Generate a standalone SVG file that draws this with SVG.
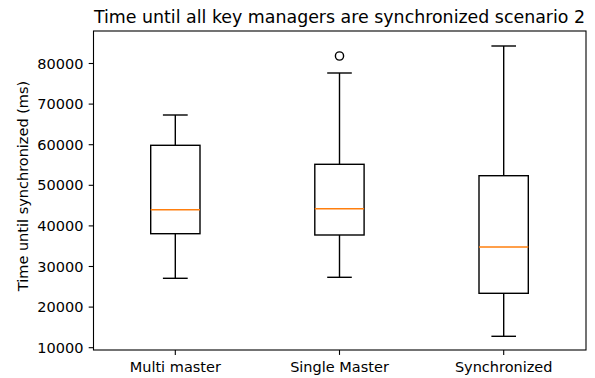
<svg xmlns="http://www.w3.org/2000/svg" width="595" height="378" viewBox="0 0 595 378">
  <style>
    text { font-family: "DejaVu Sans", "Liberation Sans", sans-serif; fill: #000; }
    .tick { font-size: 14.5px; }
    .ylab { text-anchor: end; dominant-baseline: central; }
    .xlab { text-anchor: middle; }
    .title { font-size: 17.4px; text-anchor: middle; }
    .spine { fill: none; stroke: #000; stroke-width: 1.1; stroke-linecap: square; }
    .tk { stroke: #000; stroke-width: 1.1; }
    .box { fill: none; stroke: #000; stroke-width: 1.4; }
    .whisk { stroke: #000; stroke-width: 1.4; }
    .med { stroke: #ff7f0e; stroke-width: 1.4; }
    .flier { fill: none; stroke: #000; stroke-width: 1.4; }
  </style>

  <rect width="595" height="378" fill="#fff"/>

  <!-- title -->
  <text class="title" x="339.5" y="22.5">Time until all key managers are synchronized scenario 2</text>

  <!-- y axis label -->
  <text class="tick" transform="translate(28,186) rotate(-90)" text-anchor="middle">Time until synchronized (ms)</text>

  <!-- y ticks -->
  <g id="y-axis">
    <line class="tk" x1="88.7" y1="347.7" x2="93.5" y2="347.7"/>
    <line class="tk" x1="88.7" y1="307.1" x2="93.5" y2="307.1"/>
    <line class="tk" x1="88.7" y1="266.5" x2="93.5" y2="266.5"/>
    <line class="tk" x1="88.7" y1="225.9" x2="93.5" y2="225.9"/>
    <line class="tk" x1="88.7" y1="185.3" x2="93.5" y2="185.3"/>
    <line class="tk" x1="88.7" y1="144.7" x2="93.5" y2="144.7"/>
    <line class="tk" x1="88.7" y1="104.1" x2="93.5" y2="104.1"/>
    <line class="tk" x1="88.7" y1="63.5" x2="93.5" y2="63.5"/>
    <text class="tick ylab" x="83.5" y="347.7">10000</text>
    <text class="tick ylab" x="83.5" y="307.1">20000</text>
    <text class="tick ylab" x="83.5" y="266.5">30000</text>
    <text class="tick ylab" x="83.5" y="225.9">40000</text>
    <text class="tick ylab" x="83.5" y="185.3">50000</text>
    <text class="tick ylab" x="83.5" y="144.7">60000</text>
    <text class="tick ylab" x="83.5" y="104.1">70000</text>
    <text class="tick ylab" x="83.5" y="63.5">80000</text>
  </g>

  <!-- x ticks -->
  <g id="x-axis">
    <line class="tk" x1="175.3" y1="350" x2="175.3" y2="354.9"/>
    <line class="tk" x1="339.5" y1="350" x2="339.5" y2="354.9"/>
    <line class="tk" x1="503.7" y1="350" x2="503.7" y2="354.9"/>
    <text class="tick xlab" x="175.3" y="372.3">Multi master</text>
    <text class="tick xlab" x="339.5" y="372.3">Single Master</text>
    <text class="tick xlab" x="503.7" y="372.3">Synchronized</text>
  </g>

  <!-- boxes -->
  <g id="multi-master">
    <line class="whisk" x1="175.3" y1="233.7" x2="175.3" y2="278.3"/>
    <line class="whisk" x1="175.3" y1="145.3" x2="175.3" y2="115"/>
    <line class="whisk" x1="162.9" y1="278.3" x2="187.7" y2="278.3"/>
    <line class="whisk" x1="162.9" y1="115" x2="187.7" y2="115"/>
    <rect class="box" x="150.7" y="145.3" width="49.3" height="88.4"/>
    <line class="med" x1="150.7" y1="209.7" x2="200" y2="209.7"/>
  </g>

  <g id="single-master">
    <line class="whisk" x1="339.5" y1="235" x2="339.5" y2="277.3"/>
    <line class="whisk" x1="339.5" y1="164.3" x2="339.5" y2="73"/>
    <line class="whisk" x1="327.2" y1="277.3" x2="351.8" y2="277.3"/>
    <line class="whisk" x1="327.2" y1="73" x2="351.8" y2="73"/>
    <rect class="box" x="314.8" y="164.3" width="49.3" height="70.7"/>
    <line class="med" x1="314.8" y1="208.7" x2="364.1" y2="208.7"/>
    <circle class="flier" cx="339.5" cy="56" r="4.1"/>
  </g>

  <g id="synchronized">
    <line class="whisk" x1="503.7" y1="293.3" x2="503.7" y2="336.3"/>
    <line class="whisk" x1="503.7" y1="175.7" x2="503.7" y2="46"/>
    <line class="whisk" x1="491.4" y1="336.3" x2="516" y2="336.3"/>
    <line class="whisk" x1="491.4" y1="46" x2="516" y2="46"/>
    <rect class="box" x="479" y="175.7" width="49.3" height="117.6"/>
    <line class="med" x1="479" y1="247" x2="528.3" y2="247"/>
  </g>

  <!-- axes frame -->
  <rect class="spine" x="93.5" y="31" width="492.5" height="319"/>
</svg>
